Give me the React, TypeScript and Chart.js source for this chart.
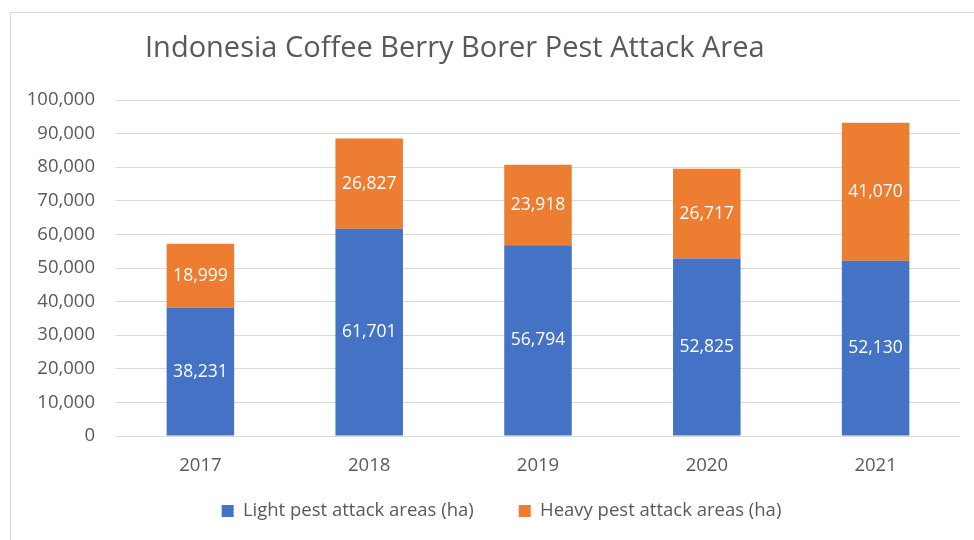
import React, { useEffect, useRef } from "react";
import { Chart, registerables } from "chart.js";

Chart.register(...registerables);

const categories = ["2017", "2018", "2019", "2020", "2021"];
const lightValues = [38231, 61701, 56794, 52825, 52130];
const heavyValues = [18999, 26827, 23918, 26717, 41070];
const seriesNames = ["Light pest attack areas (ha)", "Heavy pest attack areas (ha)"];
const titleText = "Indonesia Coffee Berry Borer Pest Attack Area";

const FONT = "'Open Sans', 'Noto Sans', sans-serif";
const TEXT = "#595959";

const fmt = (v: number) => v.toLocaleString("en-US");

const dataLabelPlugin = {
  id: "dataLabels",
  afterDatasetsDraw(chart: any) {
    const ctx = chart.ctx;
    ctx.save();
    ctx.fillStyle = "#ffffff";
    ctx.font = `17.5px ${FONT}`;
    ctx.textAlign = "center";
    ctx.textBaseline = "middle";
    chart.data.datasets.forEach((ds: any, di: number) => {
      const meta = chart.getDatasetMeta(di);
      meta.data.forEach((bar: any, i: number) => {
        const { x, y, base } = bar.getProps(["x", "y", "base"], true);
        ctx.fillText(fmt(ds.data[i]), x, (y + base) / 2);
      });
    });
    ctx.restore();
  },
};

const legendPlacePlugin = {
  id: "legendPlace",
  afterLayout(chart: any) {
    const lg = chart.legend;
    if (!lg) return;
    const h = lg.height;
    lg.top = 456.75;
    lg.bottom = lg.top + h;
    lg.left = 43;
  },
};

export default function App() {
  const ref = useRef<HTMLCanvasElement | null>(null);

  useEffect(() => {
    if (!ref.current) return;
    const chart = new Chart(ref.current, {
      type: "bar",
      data: {
        labels: categories,
        datasets: [
          {
            label: seriesNames[0],
            data: lightValues,
            backgroundColor: "#4472C4",
          },
          {
            label: seriesNames[1],
            data: heavyValues,
            backgroundColor: "#ED7D31",
          },
        ],
      },
      options: {
        responsive: false,
        animation: false,
        layout: { padding: { top: 100, right: 14, left: 0, bottom: -14.5 } },
        datasets: {
          bar: { categoryPercentage: 1, barPercentage: 0.4 },
        },
        plugins: {
          title: { display: false },
          tooltip: { enabled: false },
          legend: {
            position: "bottom",
            labels: {
              color: TEXT,
              font: { family: FONT, size: 18.5 },
              boxWidth: 12,
              boxHeight: 12,
              padding: 45,
            },
          },
        },
        scales: {
          x: {
            stacked: true,
            grid: { display: false },
            border: { display: false },
            ticks: { color: TEXT, font: { family: FONT, size: 18.5 }, padding: 11 },
            afterFit(scale: any) {
              scale.height = 45;
            },
          },
          y: {
            stacked: true,
            min: 0,
            max: 100000,
            grid: { color: "#d9d9d9", lineWidth: 1, drawTicks: false },
            border: { display: false },
            ticks: {
              stepSize: 10000,
              color: TEXT,
              font: { family: FONT, size: 18.5 },
              padding: 21,
              callback: (v: any) => fmt(Number(v)),
            },
            afterFit(scale: any) {
              scale.width = 116;
            },
          },
        },
      },
      plugins: [dataLabelPlugin, legendPlacePlugin],
    });
    return () => chart.destroy();
  }, []);

  return (
    <div style={{ position: "absolute", left: 0, top: 0, width: 974, height: 540, background: "#ffffff", overflow: "hidden" }}>
      <div
        style={{
          position: "absolute",
          left: 10,
          top: 12,
          width: 980,
          height: 540,
          borderLeft: "1px solid #d9d9d9",
          borderTop: "1px solid #d9d9d9",
        }}
      />
      <canvas ref={ref} width={974} height={540} style={{ position: "absolute", left: 0, top: 0 }} />
      <div
        style={{
          position: "absolute",
          left: 145,
          top: 26,
          fontFamily: FONT,
          fontSize: 29,
          lineHeight: "40px",
          color: TEXT,
          whiteSpace: "nowrap",
        }}
      >
        {titleText}
      </div>
    </div>
  );
}
